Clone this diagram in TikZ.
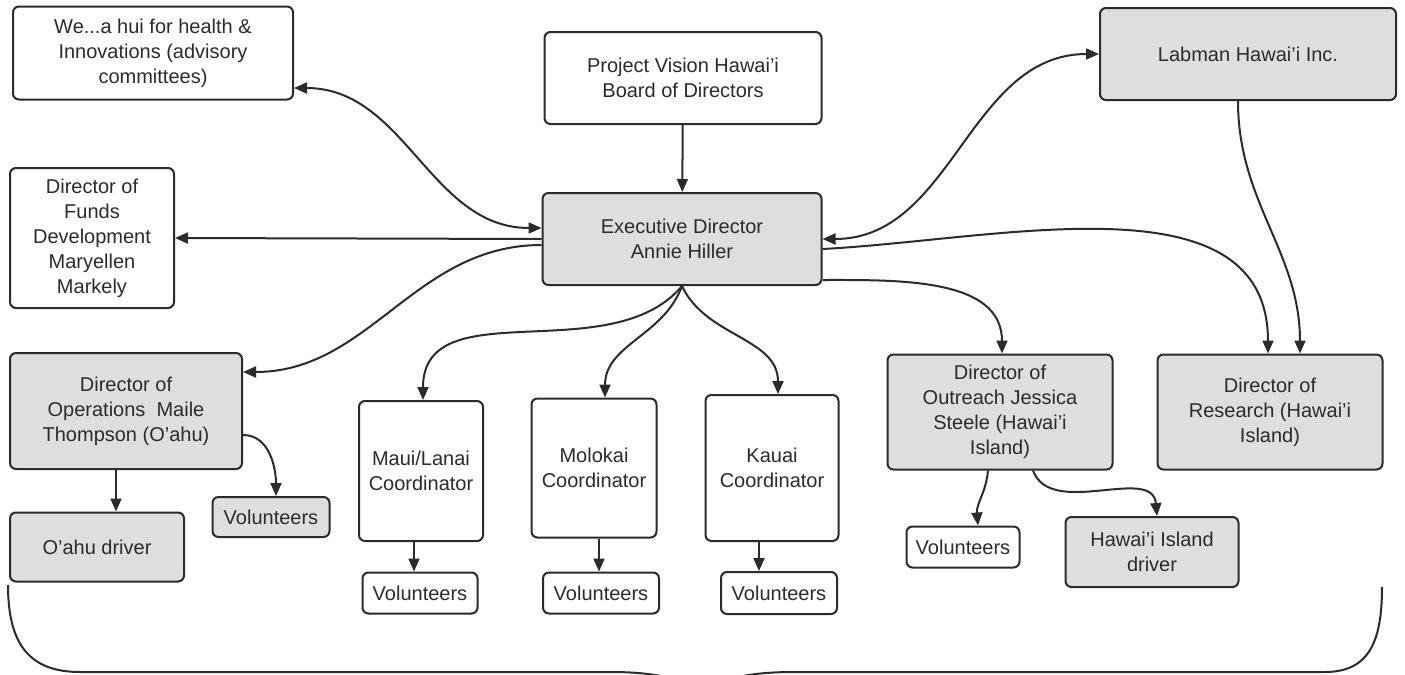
\documentclass[tikz,border=0pt]{standalone}
\usepackage{fontspec}
\setmainfont{Liberation Sans}
\usetikzlibrary{arrows.meta}
\definecolor{boxgray}{HTML}{DEDEDE}
\definecolor{ink}{HTML}{2B2B2B}
\begin{document}
\begin{tikzpicture}[
  x=0.5pt, y=-0.5pt,
  every node/.style={draw=ink, line width=1pt, rounded corners=3pt, align=center, inner sep=2pt,
    font=\fontsize{10}{12.5}\selectfont, text=ink},
  shaded/.style={fill=boxgray},
  arrow/.style={-{Triangle[length=6.5pt,width=5.5pt]}, line width=1pt, draw=ink},
  both/.style={{Triangle[length=6.5pt,width=5.5pt]}-{Triangle[length=6.5pt,width=5.5pt]}, line width=1pt, draw=ink}
]
\useasboundingbox (0,0) rectangle (1405,675);

% top row
\node (hui) [minimum width=140pt, minimum height=46.5pt] at (153,53) {We...a hui for health \&\\ Innovations (advisory\\ committees)};
\node (board) [minimum width=138.5pt, minimum height=46pt] at (683,78) {Project Vision Hawai'i\\ Board of Directors};
\node (labman) [shaded, minimum width=148pt, minimum height=46pt] at (1248,54) {Labman Hawai'i Inc.};

% middle row
\node (funds) [minimum width=82pt, minimum height=70pt] at (92,238) {Director of\\ Funds\\ Development\\ Maryellen\\ Markely};
\node (exec) [shaded, minimum width=139.5pt, minimum height=46pt] at (682,239) {Executive Director\\ Annie Hiller};

% directors and coordinators
\node (ops) [shaded, minimum width=116pt, minimum height=58pt] at (126,411) {Director of\\ Operations~ Maile\\ Thompson (O'ahu)};
\node (maui) [minimum width=62pt, minimum height=70pt] at (421,471) {Maui/Lanai\\ Coordinator};
\node (molokai) [minimum width=62.5pt, minimum height=69.5pt] at (594,468) {Molokai\\ Coordinator};
\node (kauai) [minimum width=66.5pt, minimum height=73pt] at (772,468) {Kauai\\ Coordinator};
\node (outreach) [shaded, minimum width=112.5pt, minimum height=57.5pt] at (1000,412) {Director of\\ Outreach Jessica\\ Steele (Hawai'i\\ Island)};
\node (research) [shaded, minimum width=112.5pt, minimum height=57.5pt] at (1270,412) {Director of\\ Research (Hawai'i\\ Island)};

% bottom row
\node (oahu) [shaded, minimum width=87pt, minimum height=34.5pt] at (97,547) {O'ahu driver};
\node (volops) [shaded, minimum width=58.5pt, minimum height=20pt] at (271,517) {Volunteers};
\node (volmaui) [minimum width=57.5pt, minimum height=20.5pt] at (420,593) {Volunteers};
\node (volmolokai) [minimum width=58pt, minimum height=20.5pt] at (601,593) {Volunteers};
\node (volkauai) [minimum width=58pt, minimum height=21pt] at (779,593) {Volunteers};
\node (volout) [minimum width=56.5pt, minimum height=20.5pt] at (963,547) {Volunteers};
\node (hidriver) [shaded, minimum width=86.5pt, minimum height=35pt] at (1152,552) {Hawai'i Island\\ driver};

% connectors
\draw[arrow] (board) -- (exec);
\draw[both] ([yshift=-17.5pt]hui.east) to[out=0, in=180] ([yshift=5.5pt]exec.west);
\draw[arrow] (exec.west) -- (funds.east);
\draw[arrow] ([yshift=-3pt]exec.west) to[out=180, in=0] ([yshift=19.5pt]ops.east);
\draw[arrow] (exec.south) to[out=230, in=90] ([xshift=1pt]maui.north);
\draw[arrow] (exec.south) to[out=250, in=90] ([xshift=5.5pt]molokai.north);
\draw[arrow] (exec.south) to[out=295, in=90] ([xshift=3pt]kauai.north);
\draw[both] (exec.east) to[out=0, in=180] (labman.west);
\draw[arrow] ([yshift=-5pt]exec.east) to[out=3, in=90] ([xshift=-1pt]research.north);
\draw[arrow] ([yshift=-20.5pt]exec.east) to[out=0, in=90] ([xshift=1pt]outreach.north);
\draw[arrow] ([xshift=-5pt]labman.south) to[out=270, in=90] ([xshift=15pt]research.north);
\draw[arrow] ([xshift=-5pt]ops.south) -- ([xshift=9.5pt]oahu.north);
\draw[arrow] ([yshift=-12pt]ops.east) to[out=0, in=90] ([xshift=2.5pt]volops.north);
\draw[arrow] ([xshift=-3.5pt]maui.south) -- ([xshift=-3pt]volmaui.north);
\draw[arrow] ([xshift=2.5pt]molokai.south) -- ([xshift=-1pt]volmolokai.north);
\draw[arrow] ([xshift=-6.5pt]kauai.south) -- ([xshift=-10pt]volkauai.north);
\draw[arrow] ([xshift=-6pt]outreach.south) to[out=265, in=95] ([xshift=7.5pt]volout.north);
\draw[arrow] ([xshift=16.5pt]outreach.south) to[out=-70, in=95] ([xshift=2.5pt]hidriver.north);

% brace under the staff
\draw[ink, line width=1pt] (8,585) .. controls (8,645) and (30,672) .. (80,672)
  -- (610,672) .. controls (660,672) and (692,680) .. (702,700)
  .. controls (712,680) and (744,672) .. (794,672)
  -- (1325,672) .. controls (1370,672) and (1382,640) .. (1382,587);
\end{tikzpicture}
\end{document}
